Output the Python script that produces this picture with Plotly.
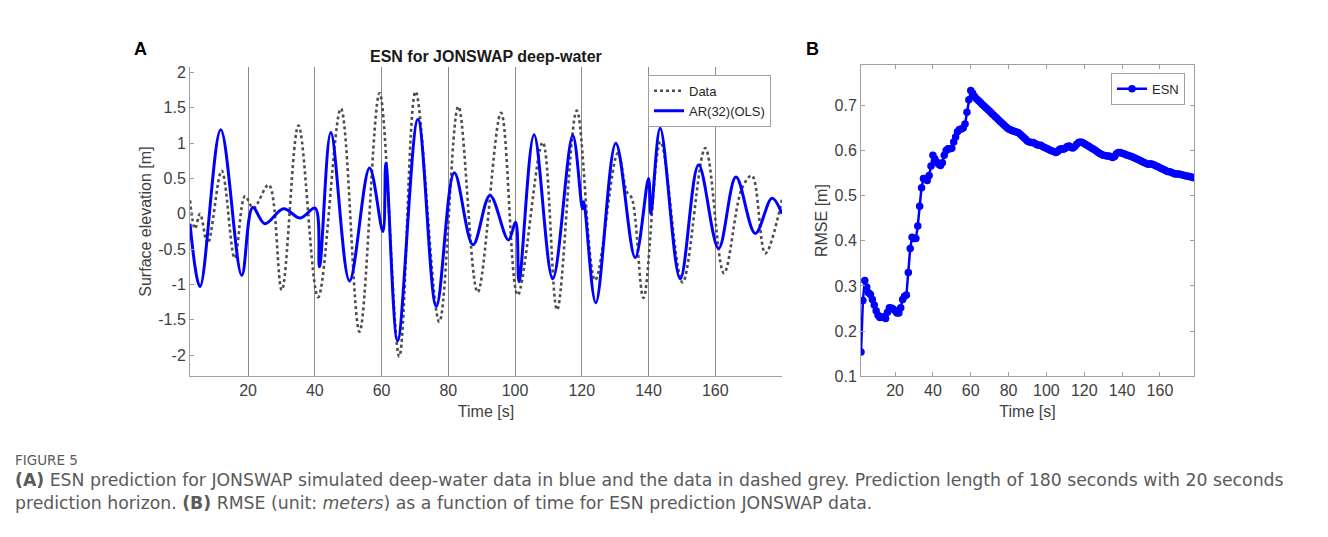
import plotly.graph_objects as go

# ---------------- Panel A data (extrema / kink points) ----------------
data_t = [2.6, 4.1, 5.6, 7.9, 12.1, 16.0, 19.1, 21.6, 26.2, 30.1, 35.1, 41.0, 47.8, 53.4,
          59.4, 65.3, 70.2, 77.3, 83.0, 88.8, 95.8, 100.8, 108.3, 112.6, 118.5, 124.0,
          130.8, 133.5, 135.0, 138.5, 143.6, 150.2, 157.0, 162.6, 168.0, 171.0, 175.0, 180.0]
data_v = [0.19, -0.21, 0.0, -0.42, 0.61, -0.63, 0.25, 0.08, 0.41, -1.08, 1.25, -1.18, 1.49, -1.67,
          1.71, -2.02, 1.73, -1.53, 1.52, -1.11, 1.43, -1.15, 1.01, -1.36, 1.46, -0.94,
          0.86, 0.31, 0.22, -1.19, 1.02, -0.97, 0.93, -0.84, 0.36, 0.54, -0.56, 0.20]

pred_t = [2.6, 5.6, 11.8, 18.1, 21.4, 25.0, 30.6, 35.6, 40.1, 41.4, 44.8, 50.4, 56.4, 60.4,
          61.3, 64.8, 70.9, 76.4, 81.8, 87.4, 92.5, 98.0, 100.2, 101.2, 105.7, 111.3,
          117.3, 120.2, 120.6, 124.2, 130.2, 136.0, 140.0, 140.7, 143.5, 149.5, 155.0,
          161.0, 166.2, 172.0, 177.0, 180.0]
pred_v = [-0.14, -1.03, 1.19, -0.87, 0.09, -0.14, 0.07, -0.06, 0.08, -0.75, 1.15, -0.95, 0.65, -0.25,
          0.72, -1.80, 1.34, -1.31, 0.58, -0.44, 0.26, -0.37, -0.12, -0.96, 1.12, -0.92,
          1.11, 0.07, 0.17, -1.26, 1.00, -0.62, 0.50, 0.00, 1.21, -0.92, 0.69,
          -0.49, 0.52, -0.28, 0.22, 0.00]

# ---------------- Panel B data (RMSE, one value per second, t = 2..178) ----------------
rmse_t = list(range(2, 179))
rmse_v = [
    0.154, 0.268, 0.312, 0.298, 0.285, 0.281, 0.270, 0.258, 0.245, 0.235,
    0.230, 0.231, 0.232, 0.228, 0.242, 0.252, 0.251, 0.249, 0.245, 0.240,
    0.240, 0.252, 0.270, 0.277, 0.280, 0.330, 0.383, 0.408, 0.405, 0.405,
    0.433, 0.477, 0.518, 0.538, 0.537, 0.534, 0.545, 0.566, 0.590, 0.582,
    0.575, 0.570, 0.567, 0.573, 0.590, 0.600, 0.604, 0.604, 0.605, 0.619,
    0.630, 0.642, 0.647, 0.648, 0.650, 0.659, 0.685, 0.713, 0.733, 0.727,
    0.720, 0.715, 0.711, 0.707, 0.703, 0.699, 0.695, 0.691, 0.687, 0.683,
    0.679, 0.675, 0.671, 0.667, 0.663, 0.659, 0.655, 0.651, 0.648, 0.646,
    0.644, 0.643, 0.641, 0.640, 0.637, 0.633, 0.629, 0.625, 0.621, 0.619,
    0.618, 0.618, 0.616, 0.613, 0.612, 0.612, 0.609, 0.607, 0.605, 0.603,
    0.601, 0.599, 0.598, 0.596, 0.598, 0.603, 0.604, 0.603, 0.605, 0.609,
    0.610, 0.607, 0.606, 0.609, 0.614, 0.618, 0.619, 0.618, 0.616, 0.613,
    0.611, 0.608, 0.605, 0.603, 0.600, 0.597, 0.594, 0.592, 0.590, 0.589,
    0.588, 0.588, 0.587, 0.585, 0.587, 0.593, 0.596, 0.596, 0.594, 0.593,
    0.591, 0.590, 0.588, 0.587, 0.585, 0.583, 0.581, 0.579, 0.577, 0.575,
    0.573, 0.571, 0.570, 0.571, 0.570, 0.568, 0.566, 0.564, 0.562, 0.560,
    0.558, 0.556, 0.554, 0.553, 0.552, 0.550, 0.548, 0.548, 0.548, 0.547,
    0.546, 0.545, 0.544, 0.543, 0.542, 0.541, 0.540,
]

# tick labels
a_xticks = [20, 40, 60, 80, 100, 120, 140, 160]
a_yticks = [-2, -1.5, -1, -0.5, 0, 0.5, 1, 1.5, 2]
a_yticktext = ["-2", "-1.5", "-1", "-0.5", "0", "0.5", "1", "1.5", "2"]
b_xticks = [20, 40, 60, 80, 100, 120, 140, 160]
b_yticks = [0.1, 0.2, 0.3, 0.4, 0.5, 0.6, 0.7]

# page body has an 8px margin: figure sized to fit, coordinates given in page pixels
OFF = 8
W, H = 1328 - 2 * OFF, 537 - 2 * OFF
VOFF, VSCALE = 9, 0.979
def px(x):
    return (x - OFF) / W
def py(y):
    return 1 - ((y - VOFF) / VSCALE) / H

FONT = "Liberation Sans, Arial, sans-serif"
CAP_FONT = "DejaVu Sans"
AX = "#a0a0a0"
TXT = "#404040"

fig = go.Figure()
fig.add_trace(go.Scatter(
    x=data_t, y=data_v, mode="lines", name="Data",
    line=dict(color="#4d4d4d", width=2.6, dash="dot", shape="spline", smoothing=1.0),
    xaxis="x", yaxis="y", legend="legend"))
fig.add_trace(go.Scatter(
    x=pred_t, y=pred_v, mode="lines", name="AR(32)(OLS)",
    line=dict(color="#0000ff", width=3, shape="spline", smoothing=1.0),
    xaxis="x", yaxis="y", legend="legend"))
fig.add_trace(go.Scatter(
    x=rmse_t, y=rmse_v, mode="lines+markers", name="ESN",
    line=dict(color="#0000ff", width=2.5),
    marker=dict(color="#0000ff", size=7.5),
    xaxis="x2", yaxis="y2", legend="legend2"))

fig.update_layout(
    width=W, height=H,
    margin=dict(l=0, r=0, t=0, b=0),
    paper_bgcolor="white", plot_bgcolor="white",
    font=dict(family=FONT, size=16, color=TXT),
    xaxis=dict(domain=[px(190), px(782)], range=[2.6, 180],
               tickmode="array", tickvals=a_xticks,
               showgrid=True, gridcolor="#8c8c8c", gridwidth=1,
               showline=True, linecolor=AX, linewidth=1,
               ticks="", zeroline=False, mirror=False,
               tickfont=dict(size=16, color=TXT),
               title=dict(text="Time [s]", font=dict(size=16, color=TXT), standoff=7),
               anchor="y"),
    yaxis=dict(domain=[py(375), py(65)], range=[-2.3, 2.08],
               tickmode="array", tickvals=a_yticks, ticktext=a_yticktext,
               showgrid=False, showline=True, linecolor=AX, linewidth=1,
               ticks="inside", ticklen=4, tickcolor=AX,
               zeroline=False, mirror=False,
               tickfont=dict(size=16, color=TXT),
               title=dict(text="Surface elevation [m]", font=dict(size=16, color=TXT), standoff=2),
               anchor="x"),
    xaxis2=dict(domain=[px(861), px(1194)], range=[2, 178],
                tickmode="array", tickvals=b_xticks,
                showgrid=False, showline=True, linecolor=AX, linewidth=1,
                ticks="inside", ticklen=4, tickcolor=AX, mirror="ticks",
                zeroline=False,
                tickfont=dict(size=16, color=TXT),
                title=dict(text="Time [s]", font=dict(size=16, color=TXT), standoff=7),
                anchor="y2"),
    yaxis2=dict(domain=[py(375), py(63)], range=[0.1, 0.79],
                tickmode="array", tickvals=b_yticks,
                showgrid=False, showline=True, linecolor=AX, linewidth=1,
                ticks="inside", ticklen=4, tickcolor=AX, mirror="ticks",
                zeroline=False,
                tickfont=dict(size=16, color=TXT),
                title=dict(text="RMSE [m]", font=dict(size=16, color=TXT), standoff=2),
                anchor="x2"),
    legend=dict(x=px(771), xanchor="right", y=py(73), yanchor="top",
                bgcolor="white", bordercolor="#a0a0a0", borderwidth=1,
                font=dict(size=13, color="#262626"), itemwidth=30,
                tracegroupgap=0),
    legend2=dict(x=px(1185), xanchor="right", y=py(71), yanchor="top",
                 bgcolor="white", bordercolor="#a0a0a0", borderwidth=1,
                 font=dict(size=13, color="#262626"), itemwidth=30),
    showlegend=True,
)

annotations = [
    dict(text="<b>A</b>", x=px(140), y=py(47), xref="paper", yref="paper",
         showarrow=False, font=dict(size=18, color="black", family=FONT),
         xanchor="center", yanchor="middle"),
    dict(text="<b>B</b>", x=px(812), y=py(47), xref="paper", yref="paper",
         showarrow=False, font=dict(size=18, color="black", family=FONT),
         xanchor="center", yanchor="middle"),
    dict(text="<b>ESN for JONSWAP deep-water</b>", x=px(486), y=py(55), xref="paper", yref="paper",
         showarrow=False, font=dict(size=16, color="#1a1a1a", family=FONT),
         xanchor="center", yanchor="middle"),
    dict(text="FIGURE 5", x=px(13), y=py(459), xref="paper", yref="paper",
         showarrow=False, font=dict(size=13.5, color="#5a5a5a", family=CAP_FONT),
         xanchor="left", yanchor="middle"),
    dict(text="<b>(A)</b> ESN prediction for JONSWAP simulated deep-water data in blue and the data in dashed grey. "
              "Prediction length of 180 seconds with 20 seconds",
         x=px(13), y=py(479), xref="paper", yref="paper",
         showarrow=False, font=dict(size=17.3, color="#5a5a5a", family=CAP_FONT),
         xanchor="left", yanchor="middle"),
    dict(text="prediction horizon. <b>(B)</b> RMSE (unit: <i>meters</i>) as a function of time for ESN prediction JONSWAP data.",
         x=px(13), y=py(502), xref="paper", yref="paper",
         showarrow=False, font=dict(size=17.3, color="#5a5a5a", family=CAP_FONT),
         xanchor="left", yanchor="middle"),
]
fig.update_layout(annotations=annotations)

fig.write_html("out.html")
